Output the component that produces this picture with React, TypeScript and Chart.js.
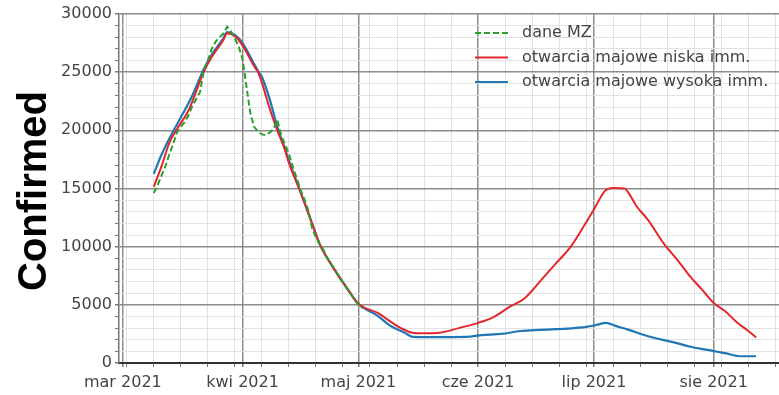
import React, { useEffect, useRef } from 'react';
import { Chart, registerables } from 'chart.js';

Chart.register(...registerables);

// x values: days since 1 Mar 2021
const monthStartDays = [0, 31, 61, 92, 122, 153];
const monthLabels = ['mar 2021', 'kwi 2021', 'maj 2021', 'cze 2021', 'lip 2021', 'sie 2021'];
const weeklyTickStart = 1; // Tuesday, 2 Mar 2021
const weeklyTickStep = 7;
const xRange = [-1, 172];
const yRange = [0, 30000];
const yLabelStep = 5000;
const yMinorStep = 1000;
const yAxisTitle = 'Confirmed';

const seriesNames = ['dane MZ', 'otwarcia majowe niska imm.', 'otwarcia majowe wysoka imm.'];

// dane MZ (reported)
const mzDays = [8, 9, 10, 11, 12, 13, 14, 15, 16, 17, 18, 19, 20, 21, 22, 23, 24, 25, 26, 27, 28, 29, 30, 31, 32, 33, 34, 35, 36, 37, 38, 39, 40, 41, 42, 43, 44, 45, 46, 47, 48, 49, 50, 51, 52, 53, 54, 55, 56, 57, 58, 59, 60, 61, 62];
const mzCases = [14600, 15300, 16100, 16900, 17900, 18800, 19800, 20300, 20700, 21300, 22100, 22700, 23300, 25200, 26000, 27000, 27600, 28000, 28300, 28900, 28500, 27900, 27200, 26100, 23800, 21500, 20300, 19900, 19650, 19600, 19800, 20100, 20900, 19600, 18800, 18000, 16900, 15900, 14900, 14100, 13150, 11600, 10800, 10200, 9700, 9000, 8500, 8000, 7400, 6900, 6400, 6000, 5400, 5000, 4700];

// otwarcia majowe niska imm.
const lowDays = [8, 10, 12, 14, 17, 21, 23, 26, 27, 29, 31, 34, 35, 36, 38, 40, 42, 43, 46, 49, 51, 54, 58, 61, 66, 70, 72, 75, 78, 82, 87, 92, 96, 100, 104, 108, 112, 116, 120, 122, 125, 127, 130, 131, 133, 136, 140, 144, 147, 150, 153, 156, 159, 162, 164];
const lowCases = [15150, 16900, 18900, 20100, 21700, 25050, 26300, 27750, 28350, 28100, 27300, 25500, 25000, 24100, 21900, 20000, 18300, 17200, 14700, 12000, 10200, 8450, 6450, 5100, 4300, 3400, 3000, 2600, 2550, 2600, 3000, 3450, 3950, 4800, 5550, 7000, 8500, 10000, 12100, 13200, 14850, 15050, 15000, 14600, 13500, 12300, 10300, 8700, 7400, 6300, 5160, 4450, 3500, 2750, 2200];

// otwarcia majowe wysoka imm.
const highDays = [8, 10, 13, 15, 18, 21, 23, 26, 27, 29, 31, 34, 35, 36, 38, 40, 42, 43, 46, 49, 51, 54, 58, 61, 66, 69, 71, 73, 75, 80, 89, 93, 98, 103, 108, 115, 120, 123, 125, 128, 131, 136, 143, 147, 151, 156, 160, 164];
const highCases = [16250, 17900, 19900, 21100, 23000, 25300, 26500, 27900, 28450, 28200, 27500, 25700, 25100, 24600, 22700, 20300, 18400, 17400, 14700, 12000, 10200, 8450, 6450, 5100, 4050, 3260, 2900, 2600, 2250, 2230, 2250, 2400, 2500, 2750, 2850, 2950, 3100, 3300, 3450, 3150, 2850, 2300, 1750, 1400, 1150, 850, 580, 580];

const seriesColors = ['#2ca02c', '#e3262b', '#1f77b4'];

const toPoints = (xs: number[], ys: number[]) => xs.map((x, i) => ({ x, y: ys[i] }));

const MAJOR_GRID = '#8c8c8c';
const MINOR_GRID = '#e2e2e2';
const TEXT = '#444';
const TICK_FONT = { family: '"DejaVu Sans", sans-serif', size: 16 };

export default function App() {
  const ref = useRef<HTMLCanvasElement | null>(null);

  useEffect(() => {
    if (!ref.current) return;

    const xTickValues: number[] = [...monthStartDays];
    for (let d = weeklyTickStart; d <= xRange[1]; d += weeklyTickStep) {
      if (!xTickValues.includes(d)) xTickValues.push(d);
    }
    xTickValues.sort((a, b) => a - b);
    const yTickValues: number[] = [];
    for (let v = yRange[0]; v <= yRange[1]; v += yMinorStep) yTickValues.push(v);

    const overlay = {
      id: 'overlay',
      afterDraw(chart: any) {
        const { ctx, chartArea } = chart;
        ctx.save();
        ctx.translate(35, (chartArea.top + chartArea.bottom) / 2 + 2.5);
        ctx.rotate(-Math.PI / 2);
        ctx.font = 'bold 40px "Liberation Sans", Arial, sans-serif';
        ctx.fillStyle = '#000';
        ctx.textAlign = 'center';
        ctx.textBaseline = 'middle';
        ctx.fillText(yAxisTitle, 0, 0);
        ctx.restore();

        chart.data.datasets.forEach((ds: any, i: number) => {
          const y = chartArea.top + 19 + i * 24.5;
          const x0 = chartArea.left + 356;
          ctx.save();
          ctx.strokeStyle = ds.borderColor;
          ctx.lineWidth = ds.borderWidth;
          ctx.setLineDash(ds.borderDash || []);
          ctx.beginPath();
          ctx.moveTo(x0, y);
          ctx.lineTo(x0 + 33, y);
          ctx.stroke();
          ctx.setLineDash([]);
          ctx.font = '16px "DejaVu Sans", sans-serif';
          ctx.fillStyle = TEXT;
          ctx.textAlign = 'left';
          ctx.textBaseline = 'middle';
          ctx.fillText(ds.label, x0 + 47, y);
          ctx.restore();
        });
      },
    };

    const chart = new Chart(ref.current, {
      type: 'line',
      data: {
        datasets: [
          {
            label: seriesNames[0],
            data: toPoints(mzDays, mzCases),
            borderColor: seriesColors[0],
            borderWidth: 2,
            borderDash: [6, 3],
            pointRadius: 0,
            tension: 0,
          },
          {
            label: seriesNames[1],
            data: toPoints(lowDays, lowCases),
            borderColor: seriesColors[1],
            borderWidth: 2,
            pointRadius: 0,
            cubicInterpolationMode: 'monotone',
          },
          {
            label: seriesNames[2],
            data: toPoints(highDays, highCases),
            borderColor: seriesColors[2],
            borderWidth: 2.2,
            pointRadius: 0,
            cubicInterpolationMode: 'monotone',
          },
        ],
      },
      options: {
        animation: false,
        responsive: false,
        devicePixelRatio: 1,
        layout: { padding: { left: 0, top: 14, right: 3, bottom: 0 } },
        plugins: { legend: { display: false }, tooltip: { enabled: false } },
        scales: {
          x: {
            type: 'linear',
            min: xRange[0],
            max: xRange[1],
            afterBuildTicks: (scale: any) => {
              scale.ticks = xTickValues.map((v) => ({ value: v }));
            },
            afterFit: (scale: any) => {
              scale.height = 32;
            },
            ticks: {
              autoSkip: false,
              maxRotation: 0,
              padding: 6,
              color: TEXT,
              font: TICK_FONT,
              callback: (v: any) => {
                const i = monthStartDays.indexOf(Number(v));
                return i >= 0 ? monthLabels[i] : '';
              },
            },
            grid: {
              color: (c: any) => (c.tick && monthStartDays.includes(c.tick.value) ? MAJOR_GRID : MINOR_GRID),
              lineWidth: (c: any) => (c.tick && monthStartDays.includes(c.tick.value) ? 1.5 : 1),
              tickLength: 4,
              tickColor: '#777',
            },
            border: { display: true, color: '#333', width: 2 },
          },
          y: {
            type: 'linear',
            min: yRange[0],
            max: yRange[1],
            afterBuildTicks: (scale: any) => {
              scale.ticks = yTickValues.map((v) => ({ value: v }));
            },
            afterFit: (scale: any) => {
              scale.width = 119;
            },
            ticks: {
              autoSkip: false,
              padding: 3,
              color: TEXT,
              font: TICK_FONT,
              callback: (v: any) => (Number(v) % yLabelStep === 0 ? String(v) : ''),
            },
            grid: {
              color: (c: any) => (c.tick && c.tick.value % yLabelStep === 0 ? MAJOR_GRID : MINOR_GRID),
              lineWidth: (c: any) => (c.tick && c.tick.value % yLabelStep === 0 ? 1.5 : 1),
              tickLength: 4,
              tickColor: '#777',
            },
            border: { display: true, color: '#777', width: 1.5 },
          },
        },
      },
      plugins: [overlay],
    } as any);

    return () => chart.destroy();
  }, []);

  return (
    <div
      style={{
        position: 'fixed',
        left: 0,
        top: 0,
        width: 779,
        height: 395,
        overflow: 'hidden',
        background: '#fff',
      }}
    >
      <canvas ref={ref} width={790} height={395} style={{ display: 'block', width: 790, height: 395 }} />
    </div>
  );
}
